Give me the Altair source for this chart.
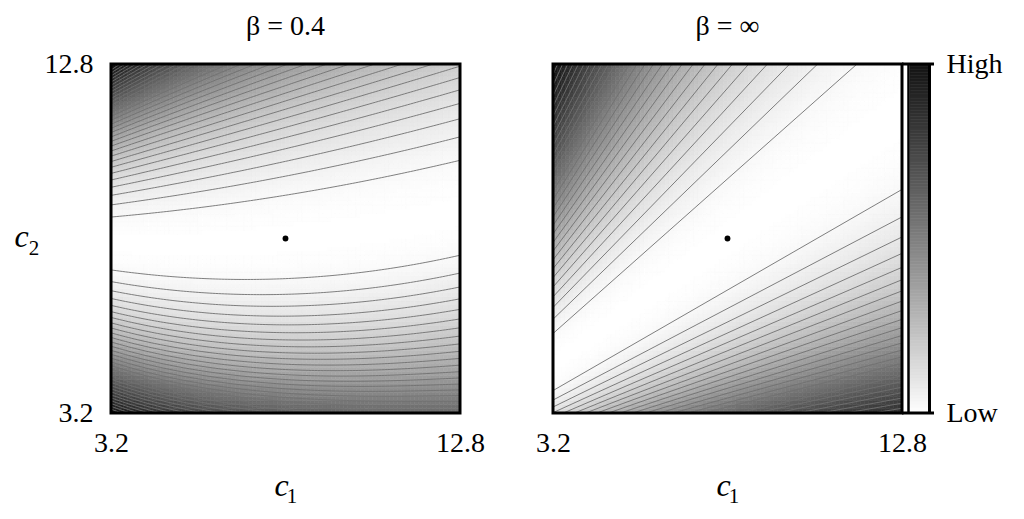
import numpy as np
import pandas as pd
import altair as alt

# ---------------- values ----------------
C_MIN, C_MAX = 3.2, 12.8          # both axes
TICKS = [3.2, 12.8]
OPTIMUM = [8.0, 8.0]              # black dot (c1, c2)
PANEL_TITLES = ["β = 0.4", "β = ∞"]
LEGEND_LABELS = ["Low", "High"]
AXIS_SYMBOL = "c"
AXIS_SUBSCRIPTS = ["1", "2"]

# beta = 0.4 : valley model, quadratic coefficients in u = (c1-8)/4.8  [const, lin, quad]
VALLEY_CENTER = [0.0, 0.0815, 0.0515]
WIDTH_UP = [0.248, 0.081, -0.014]
WIDTH_DN = [0.230, 0.0395, -0.0405]
POWER_UP = [1.90, 0.05, 0.0]
POWER_DN = [2.10, 0.0, -0.22]

# beta = inf : straight contour rays through a common pivot
PIVOT = [-1.86, 0.90]
ANGLE_STEP_DEG = 5.8
POWER_RAY = [2.0, 2.1]            # above / below the valley

GRID_N = 84
GAMMA = 1.1
GRAY_RANGE = ["#ffffff", "#141414"]

W = 349
H = 349
FONT = "Liberation Serif"


def poly(c, u):
    return c[0] + c[1] * u + c[2] * u ** 2


half = (C_MAX - C_MIN) / 2.0


def loss_left(c1, c2):
    u = (c1 - OPTIMUM[0]) / half
    v = (c2 - OPTIMUM[1]) / half
    d = v - poly(VALLEY_CENTER, u)
    w = np.where(d >= 0, poly(WIDTH_UP, u), poly(WIDTH_DN, u))
    p = np.where(d >= 0, poly(POWER_UP, u), poly(POWER_DN, u))
    return (np.abs(d) / w) ** p


theta0 = np.degrees(np.arctan2(OPTIMUM[1] - PIVOT[1], OPTIMUM[0] - PIVOT[0]))


def loss_right(c1, c2):
    th = np.degrees(np.arctan2(c2 - PIVOT[1], c1 - PIVOT[0]))
    d = th - theta0
    p = np.where(d >= 0, POWER_RAY[0], POWER_RAY[1])
    return (np.abs(d) / ANGLE_STEP_DEG) ** p


edges = np.linspace(C_MIN, C_MAX, GRID_N + 1)
centers = (edges[:-1] + edges[1:]) / 2
X0, Y0 = np.meshgrid(edges[:-1], edges[:-1])
X1, Y1 = np.meshgrid(edges[1:], edges[1:])
XC, YC = np.meshgrid(centers, centers)


def heat_df(fn):
    L = fn(XC, YC)
    val = (L / L.max()) ** GAMMA
    return pd.DataFrame({
        "x0": X0.ravel().round(4), "x1": X1.ravel().round(4),
        "y0": Y0.ravel().round(4), "y1": Y1.ravel().round(4),
        "val": val.ravel().round(4),
    }), L.max()


heat_left, lmax_left = heat_df(loss_left)
heat_right, lmax_right = heat_df(loss_right)

# ---- contour lines, left panel
us = np.linspace(-1.0, 1.0, 121)
rows = []
lid = 0
for k in range(1, int(lmax_left) + 1):
    for side in (1, -1):
        m = poly(VALLEY_CENTER, us)
        if side > 0:
            v = m + poly(WIDTH_UP, us) * k ** (1.0 / poly(POWER_UP, us))
        else:
            v = m - poly(WIDTH_DN, us) * k ** (1.0 / poly(POWER_DN, us))
        inside = np.abs(v) <= 1.2
        seg = []
        for i in range(len(us)):
            if inside[i]:
                seg.append(i)
            elif seg:
                for j, ii in enumerate(seg):
                    rows.append((lid, j, OPTIMUM[0] + half * us[ii], OPTIMUM[1] + half * v[ii]))
                lid += 1
                seg = []
        if seg:
            for j, ii in enumerate(seg):
                rows.append((lid, j, OPTIMUM[0] + half * us[ii], OPTIMUM[1] + half * v[ii]))
            lid += 1
lines_left = pd.DataFrame(rows, columns=["id", "i", "c1", "c2"]).round(4)

# ---- contour lines, right panel (rays)
rows = []
lid = 0
for k in range(1, int(lmax_right) + 1):
    for side, pw in ((1, POWER_RAY[0]), (-1, POWER_RAY[1])):
        th = np.radians(theta0 + side * ANGLE_STEP_DEG * k ** (1.0 / pw))
        for j, c1 in enumerate([C_MIN - 0.3, C_MAX + 0.3]):
            rows.append((lid, j, c1, PIVOT[1] + np.tan(th) * (c1 - PIVOT[0])))
        lid += 1
lines_right = pd.DataFrame(rows, columns=["id", "i", "c1", "c2"]).round(4)

# ---- colour bar cells
nb = 120
bar_edges = np.linspace(C_MIN, C_MAX, nb + 1)
bar = pd.DataFrame({
    "y0": bar_edges[:-1], "y1": bar_edges[1:],
    "val": ((bar_edges[:-1] + bar_edges[1:]) / 2 - C_MIN) / (C_MAX - C_MIN),
}).round(4)

dot = pd.DataFrame({"c1": [OPTIMUM[0]], "c2": [OPTIMUM[1]]})
one = pd.DataFrame({"a": [0]})

xscale = alt.Scale(domain=[C_MIN, C_MAX], nice=False, zero=False)
yscale = alt.Scale(domain=[C_MIN, C_MAX], nice=False, zero=False)
cscale = alt.Scale(domain=[0, 1], range=GRAY_RANGE)

common = dict(ticks=False, domain=False, grid=False, labelFlush=False, labelFont=FONT,
              labelFontSize=28, labelColor="black", titleFont=FONT, titleColor="black",
              titleFontWeight="normal")
x_axis = alt.Axis(values=TICKS, format=".1f", labelPadding=16,
                  title=AXIS_SYMBOL, titleFontStyle="italic", titleFontSize=32,
                  titleX=170, titleY=82, titleAlign="center", titleBaseline="alphabetic", **common)
y_axis_left = alt.Axis(values=TICKS, format=".1f", labelPadding=18,
                       title=AXIS_SYMBOL, titleFontStyle="italic", titleFontSize=32, titleAngle=0,
                       titleX=-90, titleY=182, titleAlign="center", titleBaseline="alphabetic",
                       **common)
y_axis_right = alt.Axis(values=TICKS, orient="right", labelPadding=44, labelAlign="left",
                        labelExpr="datum.value > 8 ? '" + LEGEND_LABELS[1] + "' : '" + LEGEND_LABELS[0] + "'",
                        title=None, **common)


def sub_text(txt, px, py):
    return alt.Chart(one).mark_text(text=txt, font=FONT, fontSize=21, color="black",
                                    align="center", baseline="alphabetic").encode(
        x=alt.value(px), y=alt.value(py))


def panel(heat, lines, title, y_axis, with_bar):
    xe = lambda f: alt.X(f, scale=xscale, axis=x_axis)
    ye = lambda f: alt.Y(f, scale=yscale, axis=y_axis)
    heat_layer = alt.Chart(heat).mark_rect(clip=True, strokeWidth=0.6).encode(
        x=xe("x0:Q"), x2="x1:Q", y=ye("y0:Q"), y2="y1:Q",
        fill=alt.Fill("val:Q", scale=cscale, legend=None),
        stroke=alt.Stroke("val:Q", scale=cscale, legend=None),
    )
    line_layer = alt.Chart(lines).mark_line(clip=True, color="#707070", strokeWidth=0.9).encode(
        x=xe("c1:Q"), y=ye("c2:Q"), detail="id:N", order="i:Q"
    )
    dot_layer = alt.Chart(dot).mark_point(filled=True, color="black", size=34, opacity=1).encode(
        x=xe("c1:Q"), y=ye("c2:Q")
    )
    frame = alt.Chart(one).mark_rect(fillOpacity=0, stroke="black", strokeWidth=3).encode(
        x=alt.value(0), x2=alt.value(W), y=alt.value(0), y2=alt.value(H)
    )
    layers = [heat_layer, line_layer, dot_layer, frame, sub_text(AXIS_SUBSCRIPTS[0], 181, H + 90)]
    if with_bar:
        cells = alt.Chart(bar).mark_rect(strokeWidth=0.6).encode(
            x=alt.value(W + 8), x2=alt.value(W + 26.5), y=ye("y0:Q"), y2="y1:Q",
            fill=alt.Fill("val:Q", scale=cscale, legend=None),
            stroke=alt.Stroke("val:Q", scale=cscale, legend=None),
        )
        inner = alt.Chart(one).mark_rule(color="black", strokeWidth=2.5).encode(
            x=alt.value(W + 6.5), y=alt.value(0), y2=alt.value(H))
        outer = alt.Chart(one).mark_rule(color="black", strokeWidth=3).encode(
            x=alt.value(W + 27.5), y=alt.value(0), y2=alt.value(H))
        top = alt.Chart(one).mark_rule(color="black", strokeWidth=3).encode(
            x=alt.value(W), x2=alt.value(W + 32), y=alt.value(0))
        bottom = alt.Chart(one).mark_rule(color="black", strokeWidth=3).encode(
            x=alt.value(W), x2=alt.value(W + 32), y=alt.value(H))
        layers += [cells, inner, outer, top, bottom]
    else:
        layers.append(sub_text(AXIS_SUBSCRIPTS[1], -77, 191))
    return alt.layer(*layers).properties(
        width=W, height=H,
        title=alt.TitleParams(text=title, font=FONT, fontSize=28, fontWeight="normal",
                              anchor="middle", offset=9, color="black"),
    )


left = panel(heat_left, lines_left, PANEL_TITLES[0], y_axis_left, False)
right = panel(heat_right, lines_right, PANEL_TITLES[1], y_axis_right, True)

chart = alt.hconcat(left, right, spacing=93, bounds="flush", background="white").configure_view(
    stroke=None
)

chart.save("out.html", embed_options={"renderer": "svg", "actions": False})
